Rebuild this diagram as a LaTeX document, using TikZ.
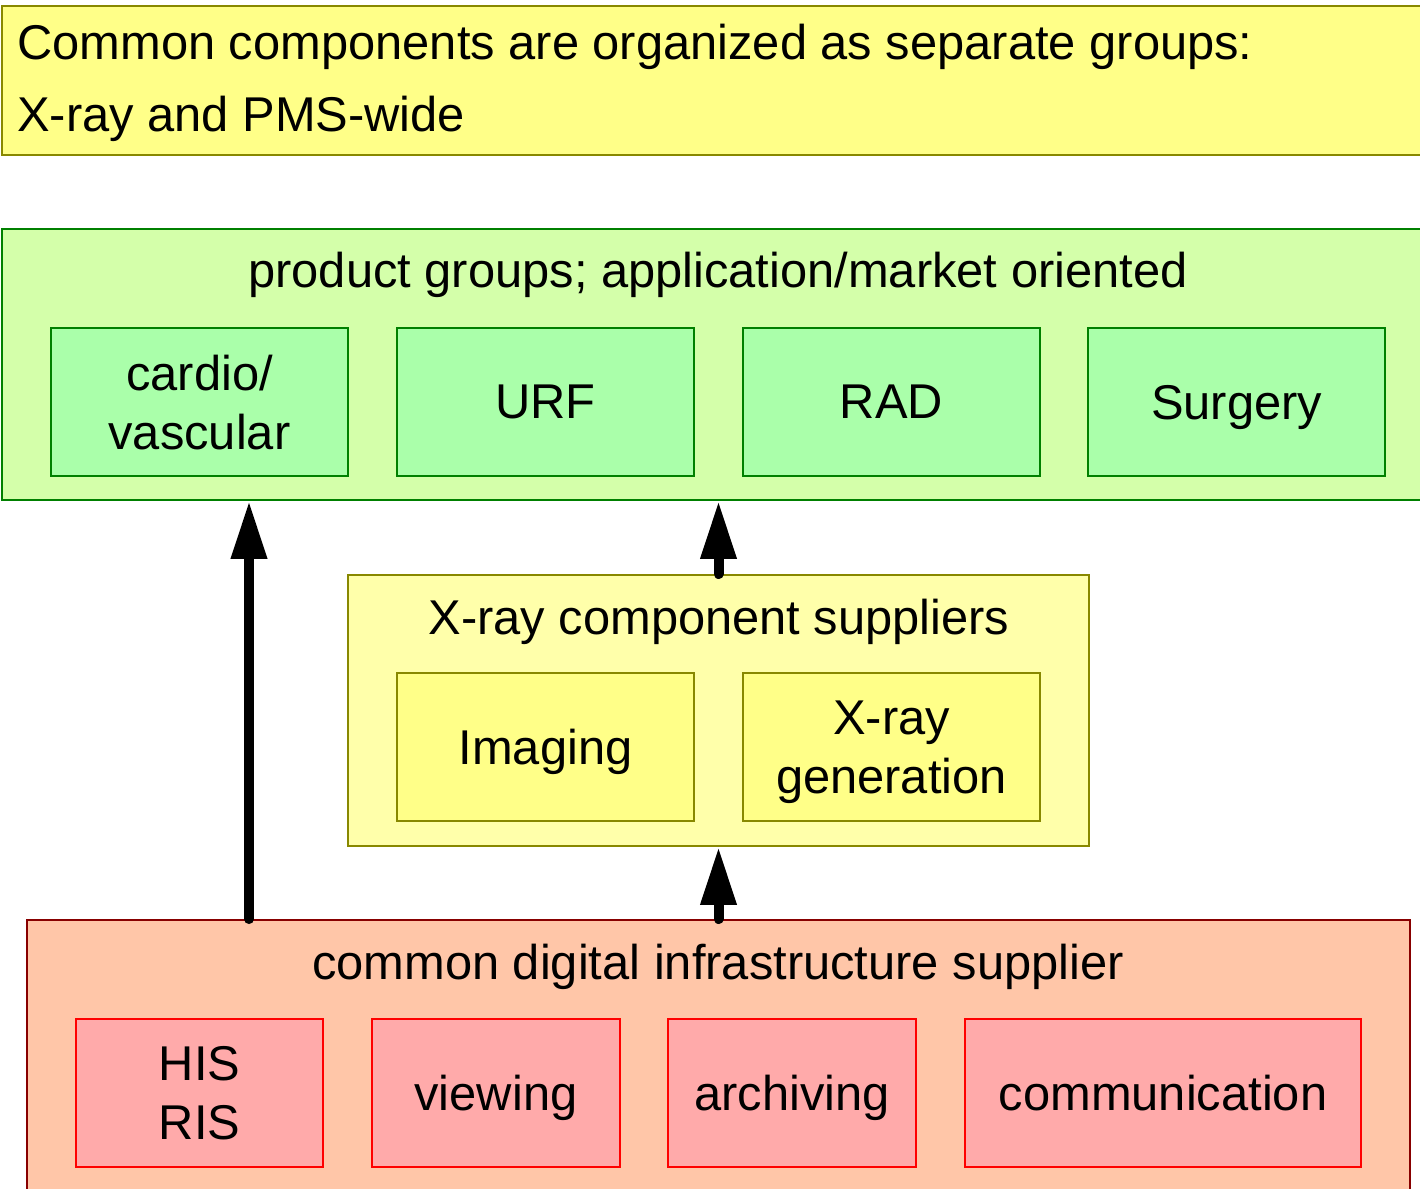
\documentclass[tikz,border=0pt]{standalone}
\usepackage{fontspec}
\setmainfont{Liberation Sans}
\usetikzlibrary{fit,arrows.meta}
\definecolor{topfill}{HTML}{FFFF88}
\definecolor{olive}{HTML}{888800}
\definecolor{grpgreen}{HTML}{D4FFAA}
\definecolor{boxgreen}{HTML}{AAFFAA}
\definecolor{dkgreen}{HTML}{008000}
\definecolor{grpyellow}{HTML}{FFFFAA}
\definecolor{boxyellow}{HTML}{FFFF88}
\definecolor{grpred}{HTML}{FFC6A8}
\definecolor{boxred}{HTML}{FFAAAA}
\definecolor{dkred}{HTML}{880000}
\begin{document}
\begin{tikzpicture}[x=0.02cm,y=-0.02cm,
  every node/.style={font=\fontsize{27.8pt}{33.5pt}\selectfont},
  frame/.style={inner sep=0pt, line width=1.1pt},
  greengrp/.style={frame, draw=dkgreen, fill=grpgreen},
  yellowgrp/.style={frame, draw=olive, fill=grpyellow},
  redgrp/.style={frame, draw=dkred, fill=grpred},
  inbox/.style={frame, align=center, text depth=0pt, minimum height=2.96cm, minimum width=5.94cm},
  greenbox/.style={inbox, draw=dkgreen, fill=boxgreen},
  yellowbox/.style={inbox, draw=olive, fill=boxyellow},
  redbox/.style={inbox, draw=red, fill=boxred},
  title/.style={inner sep=0pt, anchor=base},
  bigarrow/.style={line width=0.2cm, line cap=round, -{Triangle[width=0.68cm,length=1.16cm]}}
]
\useasboundingbox (0,0) rectangle (1420,1189);
\clip (0,0) rectangle (1420,1189);
\fill[white] (0,0) rectangle (1420,1189);

% top note
\node[frame, draw=olive, fill=topfill, fit={(2,6) (1440,155)}] (note) {};
\node[inner sep=0pt, anchor=west, align=left, font=\fontsize{27.8pt}{41pt}\selectfont] (notetext) at (17,83)
  {Common components are organized as separate groups:\\X-ray and PMS-wide};

% product groups
\node[greengrp, fit={(2,229) (1440,500)}] (prod) {};
\node[title] (prodtitle) at (718,288) {product groups; application/market oriented};
\node[greenbox] (cardio) at (199.5,402) {cardio/\\vascular};
\node[greenbox] (urf) at (545.5,402) {URF};
\node[greenbox] (rad) at (891.5,402) {RAD};
\node[greenbox] (surgery) at (1236.5,402) {Surgery};

% X-ray component suppliers
\node[yellowgrp, fit={(348,575) (1089,846)}] (xray) {};
\node[title] (xraytitle) at (719,634) {X-ray component suppliers};
\node[yellowbox] (imaging) at (545.5,747) {Imaging};
\node[yellowbox] (xgen) at (891.5,747) {X-ray\\generation};

% common digital infrastructure supplier
\node[redgrp, fit={(27,920) (1410,1210)}] (infra) {};
\node[title] (infratitle) at (718,979) {common digital infrastructure supplier};
\node[redbox, minimum width=4.94cm] (hisris) at (199.5,1093) {HIS\\RIS};
\node[redbox, minimum width=4.96cm] (viewing) at (496,1093) {viewing};
\node[redbox, minimum width=4.96cm] (archiving) at (792,1093) {archiving};
\node[redbox, minimum width=7.92cm] (comm) at (1163,1093) {communication};

% arrows
\coordinate (leftx) at (249,0);
\draw[bigarrow] (infra.north -| leftx) -- (prod.south -| leftx);
\draw[bigarrow] (xray.north) -- (prod.south -| xray.north);
\draw[bigarrow] (infra.north -| xray.south) -- (xray.south);
\end{tikzpicture}
\end{document}
